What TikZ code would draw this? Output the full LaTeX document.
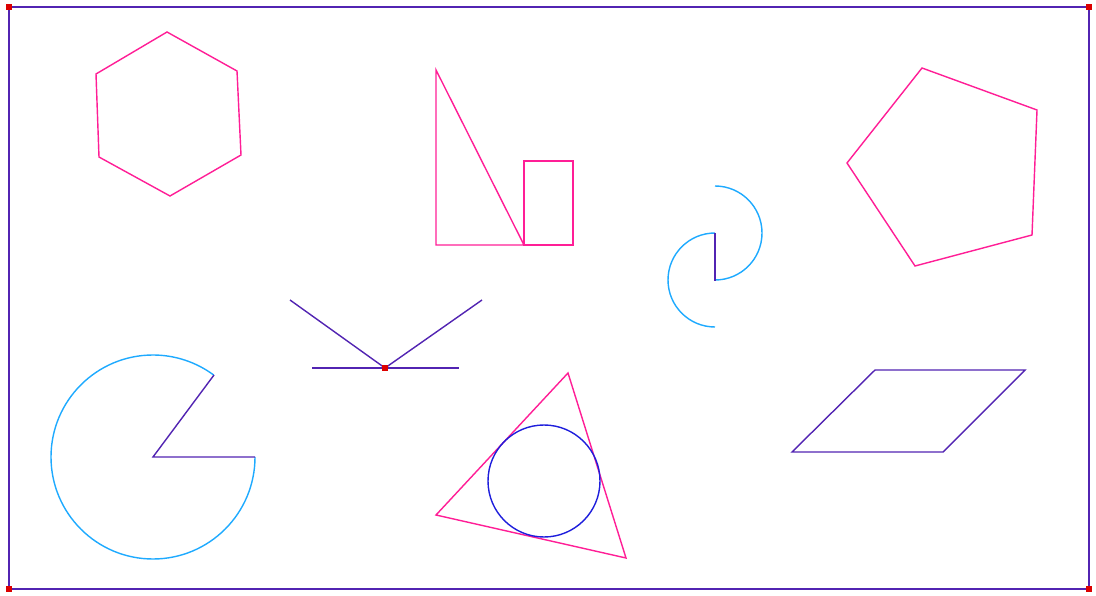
\documentclass[tikz,border=0pt]{standalone}
\usepackage{tikz}
\definecolor{framepurple}{RGB}{82,36,178}
\definecolor{shapepink}{RGB}{255,30,150}
\definecolor{arcblue}{RGB}{30,170,255}
\definecolor{ringblue}{RGB}{30,30,220}
\definecolor{dotred}{RGB}{220,0,0}
\begin{document}
\begin{tikzpicture}[x=0.025cm,y=-0.025cm]
\useasboundingbox (0,0) rectangle (1096,596);
\draw[line width=1.1pt, framepurple] (9,7) rectangle (1089,589);
\fill[dotred] (6,4) rectangle (12,10);
\fill[dotred] (1086,4) rectangle (1092,10);
\fill[dotred] (6,586) rectangle (12,592);
\fill[dotred] (1086,586) rectangle (1092,592);
\draw[line width=1pt, shapepink] (167,32) -- (237,71) -- (241,155) -- (170,196) -- (99,157) -- (96,74) -- cycle;
\draw[line width=1pt, shapepink] (436,70) -- (436,245) -- (524,245) -- cycle;
\draw[line width=1pt, shapepink] (524,161) rectangle (573,245);
\draw[line width=1pt, shapepink] (922,68) -- (1037,110) -- (1032,235) -- (915,266) -- (847,163) -- cycle;
\draw[line width=1pt, arcblue] (715,186) arc (-90:90:47);
\draw[line width=1pt, arcblue] (715,233) arc (-90:-270:47);
\draw[line width=1pt, framepurple] (715,233) -- (715,281);
\draw[line width=1pt, framepurple] (290,300) -- (385,368) -- (482,300);
\draw[line width=1pt, framepurple] (312,368) -- (459,368);
\fill[dotred] (382,365) rectangle (388,371);
\draw[line width=1pt, arcblue] (255,457) arc (0:306.5:102);
\draw[line width=1pt, framepurple] (214,375) -- (153,457) -- (255,457);
\draw[line width=1pt, shapepink] (568,373) -- (626,558) -- (436,515) -- cycle;
\draw[line width=1pt, ringblue] (544,481) circle (56);
\draw[line width=1pt, framepurple] (875,370) -- (1025,370) -- (943,452) -- (792,452) -- cycle;
\end{tikzpicture}
\end{document}
